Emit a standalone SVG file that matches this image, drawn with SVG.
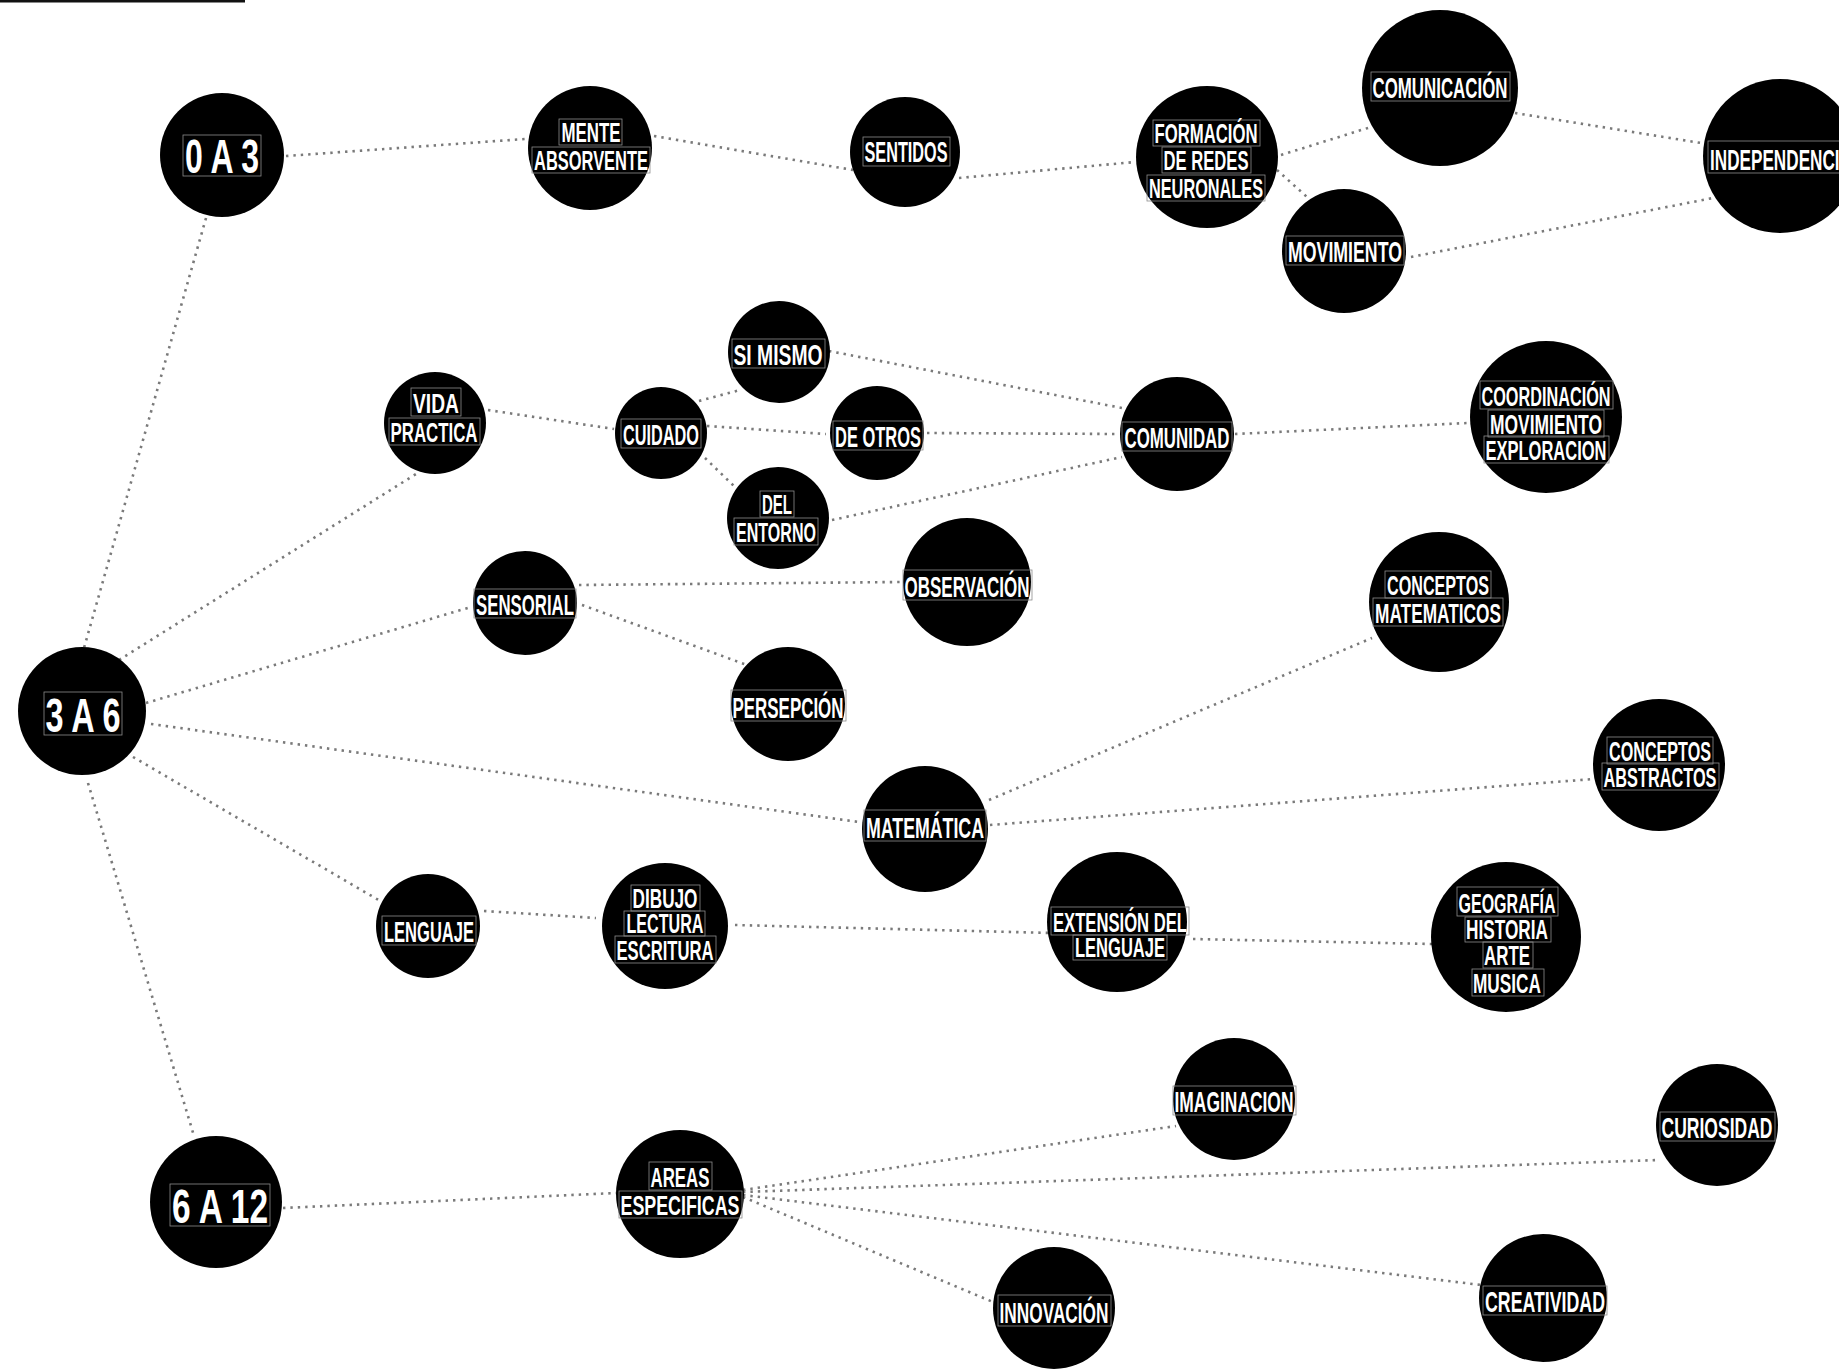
<svg xmlns="http://www.w3.org/2000/svg" width="1839" height="1370" viewBox="0 0 1839 1370">
<style>
.node circle{fill:#000}
.node text{fill:#fff;font-family:"Liberation Sans Narrow","Liberation Sans",Arial,sans-serif;font-weight:bold;font-size:30px;text-anchor:middle}
.node text.m{font-size:27px}
.node text.big{font-size:49px}
.node rect{fill:none;stroke:#8c8c8c;stroke-width:0.8}
.edges line{stroke:#7a7a7a;stroke-width:2.6;stroke-dasharray:2.4 5}
</style>
<rect width="1839" height="1370" fill="#fff"/>
<rect x="0" y="0" width="245" height="2.5" fill="#111"/>
<g class="edges" id="connectors">
<line x1="286" y1="156" x2="525" y2="139"/>
<line x1="654" y1="136" x2="853" y2="170"/>
<line x1="959" y1="178" x2="1135" y2="162"/>
<line x1="1281" y1="155" x2="1371" y2="127"/>
<line x1="1277" y1="170" x2="1307" y2="197"/>
<line x1="1515" y1="113" x2="1701" y2="143"/>
<line x1="1411" y1="257" x2="1713" y2="198"/>
<line x1="206" y1="218" x2="84" y2="648"/>
<line x1="119" y1="660" x2="416" y2="474"/>
<line x1="146" y1="703" x2="471" y2="607"/>
<line x1="151" y1="724" x2="859" y2="822"/>
<line x1="133" y1="757" x2="382" y2="902"/>
<line x1="88" y1="783" x2="194" y2="1136"/>
<line x1="488" y1="410" x2="614" y2="429"/>
<line x1="699" y1="401" x2="740" y2="390"/>
<line x1="707" y1="426" x2="826" y2="434"/>
<line x1="705" y1="458" x2="735" y2="487"/>
<line x1="829" y1="351" x2="1122" y2="408"/>
<line x1="927" y1="433" x2="1119" y2="434"/>
<line x1="832" y1="520" x2="1122" y2="457"/>
<line x1="1235" y1="434" x2="1468" y2="423"/>
<line x1="579" y1="585" x2="901" y2="582"/>
<line x1="582" y1="605" x2="747" y2="665"/>
<line x1="989" y1="800" x2="1372" y2="638"/>
<line x1="990" y1="825" x2="1594" y2="779"/>
<line x1="484" y1="911" x2="596" y2="918"/>
<line x1="735" y1="925" x2="1052" y2="933"/>
<line x1="1193" y1="939" x2="1432" y2="944"/>
<line x1="283" y1="1208" x2="616" y2="1193"/>
<line x1="743" y1="1190" x2="1176" y2="1126"/>
<line x1="743" y1="1192" x2="1658" y2="1160"/>
<line x1="743" y1="1197" x2="993" y2="1302"/>
<line x1="743" y1="1195" x2="1481" y2="1285"/>
</g>
<g class="node" id="n-0a3"><circle cx="222" cy="155" r="62"/><rect x="183" y="135" width="78" height="41"/><text class="big" x="222" y="173" textLength="74" lengthAdjust="spacingAndGlyphs">0 A 3</text></g>
<g class="node" id="n-mente"><circle cx="590" cy="148" r="62"/><rect x="559" y="119" width="63" height="26"/><rect x="532" y="147" width="118" height="26"/><text class="m" x="591" y="142" textLength="59" lengthAdjust="spacingAndGlyphs">MENTE</text><text class="m" x="591" y="170" textLength="114" lengthAdjust="spacingAndGlyphs">ABSORVENTE</text></g>
<g class="node" id="n-sentidos"><circle cx="905" cy="152" r="55"/><rect x="863" y="137" width="87" height="29"/><text x="906" y="162" textLength="83" lengthAdjust="spacingAndGlyphs">SENTIDOS</text></g>
<g class="node" id="n-formacion"><circle cx="1207" cy="157" r="71"/><rect x="1153" y="120" width="107" height="26"/><rect x="1162" y="147" width="89" height="26"/><rect x="1147" y="175" width="118" height="26"/><text class="m" x="1206" y="143" textLength="103" lengthAdjust="spacingAndGlyphs">FORMACIÓN</text><text class="m" x="1206" y="170" textLength="85" lengthAdjust="spacingAndGlyphs">DE REDES</text><text class="m" x="1206" y="198" textLength="114" lengthAdjust="spacingAndGlyphs">NEURONALES</text></g>
<g class="node" id="n-comunicacion"><circle cx="1440" cy="88" r="78"/><rect x="1371" y="72" width="139" height="29"/><text x="1440" y="98" textLength="135" lengthAdjust="spacingAndGlyphs">COMUNICACIÓN</text></g>
<g class="node" id="n-movimiento"><circle cx="1344" cy="251" r="62"/><rect x="1286" y="236" width="118" height="29"/><text x="1345" y="262" textLength="114" lengthAdjust="spacingAndGlyphs">MOVIMIENTO</text></g>
<g class="node" id="n-independencia"><circle cx="1780" cy="156" r="77"/><rect x="1708" y="141" width="146" height="32"/><text x="1781" y="170" textLength="142" lengthAdjust="spacingAndGlyphs">INDEPENDENCIA</text></g>
<g class="node" id="n-simismo"><circle cx="779" cy="352" r="51"/><rect x="732" y="339" width="93" height="29"/><text x="778" y="365" textLength="89" lengthAdjust="spacingAndGlyphs">SI MISMO</text></g>
<g class="node" id="n-vida"><circle cx="435" cy="423" r="51"/><rect x="411" y="388" width="50" height="28"/><rect x="389" y="418" width="91" height="27"/><text class="m" x="436" y="413" textLength="46" lengthAdjust="spacingAndGlyphs">VIDA</text><text class="m" x="434" y="442" textLength="87" lengthAdjust="spacingAndGlyphs">PRACTICA</text></g>
<g class="node" id="n-cuidado"><circle cx="661" cy="433" r="46"/><rect x="621" y="419" width="80" height="29"/><text x="661" y="445" textLength="76" lengthAdjust="spacingAndGlyphs">CUIDADO</text></g>
<g class="node" id="n-deotros"><circle cx="877" cy="433" r="47"/><rect x="833" y="421" width="90" height="29"/><text x="878" y="447" textLength="86" lengthAdjust="spacingAndGlyphs">DE OTROS</text></g>
<g class="node" id="n-entorno"><circle cx="778" cy="518" r="51"/><rect x="760" y="491" width="34" height="26"/><rect x="734" y="518" width="84" height="27"/><text class="m" x="777" y="514" textLength="30" lengthAdjust="spacingAndGlyphs">DEL</text><text class="m" x="776" y="542" textLength="80" lengthAdjust="spacingAndGlyphs">ENTORNO</text></g>
<g class="node" id="n-comunidad"><circle cx="1177" cy="434" r="57"/><rect x="1122" y="422" width="110" height="29"/><text x="1177" y="448" textLength="105" lengthAdjust="spacingAndGlyphs">COMUNIDAD</text></g>
<g class="node" id="n-coordinacion"><circle cx="1546" cy="417" r="76"/><rect x="1480" y="381" width="133" height="28"/><rect x="1488" y="410" width="116" height="27"/><rect x="1484" y="436" width="125" height="27"/><text class="m" x="1546" y="406" textLength="129" lengthAdjust="spacingAndGlyphs">COORDINACIÓN</text><text class="m" x="1546" y="434" textLength="112" lengthAdjust="spacingAndGlyphs">MOVIMIENTO</text><text class="m" x="1546" y="460" textLength="121" lengthAdjust="spacingAndGlyphs">EXPLORACION</text></g>
<g class="node" id="n-sensorial"><circle cx="525" cy="603" r="52"/><rect x="474" y="589" width="102" height="29"/><text x="525" y="615" textLength="98" lengthAdjust="spacingAndGlyphs">SENSORIAL</text></g>
<g class="node" id="n-observacion"><circle cx="967" cy="582" r="64"/><rect x="903" y="570" width="129" height="30"/><text x="967" y="597" textLength="125" lengthAdjust="spacingAndGlyphs">OBSERVACIÓN</text></g>
<g class="node" id="n-persepcion"><circle cx="788" cy="704" r="57"/><rect x="731" y="690" width="115" height="31"/><text x="788" y="718" textLength="111" lengthAdjust="spacingAndGlyphs">PERSEPCIÓN</text></g>
<g class="node" id="n-3a6"><circle cx="82" cy="711" r="64"/><rect x="44" y="692" width="78" height="43"/><text class="big" x="83" y="732" textLength="75" lengthAdjust="spacingAndGlyphs">3 A 6</text></g>
<g class="node" id="n-conceptosmat"><circle cx="1439" cy="602" r="70"/><rect x="1385" y="571" width="106" height="27"/><rect x="1373" y="598" width="130" height="28"/><text class="m" x="1438" y="595" textLength="102" lengthAdjust="spacingAndGlyphs">CONCEPTOS</text><text class="m" x="1438" y="623" textLength="126" lengthAdjust="spacingAndGlyphs">MATEMATICOS</text></g>
<g class="node" id="n-matematica"><circle cx="925" cy="829" r="63"/><rect x="864" y="810" width="122" height="31"/><text x="925" y="838" textLength="118" lengthAdjust="spacingAndGlyphs">MATEMÁTICA</text></g>
<g class="node" id="n-conceptosabs"><circle cx="1659" cy="765" r="66"/><rect x="1607" y="737" width="106" height="27"/><rect x="1602" y="763" width="117" height="27"/><text class="m" x="1660" y="761" textLength="102" lengthAdjust="spacingAndGlyphs">CONCEPTOS</text><text class="m" x="1660" y="787" textLength="113" lengthAdjust="spacingAndGlyphs">ABSTRACTOS</text></g>
<g class="node" id="n-lenguaje"><circle cx="428" cy="926" r="52"/><rect x="382" y="916" width="94" height="29"/><text x="429" y="942" textLength="90" lengthAdjust="spacingAndGlyphs">LENGUAJE</text></g>
<g class="node" id="n-dibujo"><circle cx="665" cy="926" r="63"/><rect x="631" y="885" width="69" height="26"/><rect x="624" y="911" width="81" height="25"/><rect x="615" y="936" width="101" height="27"/><text class="m" x="665" y="908" textLength="65" lengthAdjust="spacingAndGlyphs">DIBUJO</text><text class="m" x="665" y="933" textLength="77" lengthAdjust="spacingAndGlyphs">LECTURA</text><text class="m" x="665" y="960" textLength="97" lengthAdjust="spacingAndGlyphs">ESCRITURA</text></g>
<g class="node" id="n-extension"><circle cx="1117" cy="922" r="70"/><rect x="1051" y="907" width="138" height="28"/><rect x="1073" y="935" width="94" height="25"/><text class="m" x="1120" y="932" textLength="134" lengthAdjust="spacingAndGlyphs">EXTENSIÓN DEL</text><text class="m" x="1120" y="957" textLength="90" lengthAdjust="spacingAndGlyphs">LENGUAJE</text></g>
<g class="node" id="n-geografia"><circle cx="1506" cy="937" r="75"/><rect x="1457" y="887" width="101" height="29"/><rect x="1465" y="917" width="86" height="25"/><rect x="1483" y="942" width="50" height="26"/><rect x="1472" y="969" width="72" height="27"/><text class="m" x="1507" y="913" textLength="97" lengthAdjust="spacingAndGlyphs">GEOGRAFÍA</text><text class="m" x="1507" y="939" textLength="82" lengthAdjust="spacingAndGlyphs">HISTORIA</text><text class="m" x="1507" y="965" textLength="46" lengthAdjust="spacingAndGlyphs">ARTE</text><text class="m" x="1507" y="993" textLength="68" lengthAdjust="spacingAndGlyphs">MUSICA</text></g>
<g class="node" id="n-6a12"><circle cx="216" cy="1202" r="66"/><rect x="170" y="1184" width="100" height="42"/><text class="big" x="220" y="1223" textLength="96" lengthAdjust="spacingAndGlyphs">6 A 12</text></g>
<g class="node" id="n-areas"><circle cx="680" cy="1194" r="64"/><rect x="649" y="1162" width="63" height="28"/><rect x="619" y="1191" width="123" height="27"/><text class="m" x="680" y="1187" textLength="59" lengthAdjust="spacingAndGlyphs">AREAS</text><text class="m" x="680" y="1215" textLength="119" lengthAdjust="spacingAndGlyphs">ESPECIFICAS</text></g>
<g class="node" id="n-imaginacion"><circle cx="1234" cy="1099" r="61"/><rect x="1173" y="1086" width="123" height="29"/><text x="1234" y="1112" textLength="119" lengthAdjust="spacingAndGlyphs">IMAGINACION</text></g>
<g class="node" id="n-curiosidad"><circle cx="1717" cy="1125" r="61"/><rect x="1660" y="1112" width="115" height="29"/><text x="1717" y="1138" textLength="111" lengthAdjust="spacingAndGlyphs">CURIOSIDAD</text></g>
<g class="node" id="n-innovacion"><circle cx="1054" cy="1308" r="61"/><rect x="998" y="1295" width="113" height="31"/><text x="1054" y="1323" textLength="109" lengthAdjust="spacingAndGlyphs">INNOVACIÓN</text></g>
<g class="node" id="n-creatividad"><circle cx="1543" cy="1298" r="64"/><rect x="1483" y="1286" width="124" height="29"/><text x="1545" y="1312" textLength="120" lengthAdjust="spacingAndGlyphs">CREATIVIDAD</text></g>
</svg>
